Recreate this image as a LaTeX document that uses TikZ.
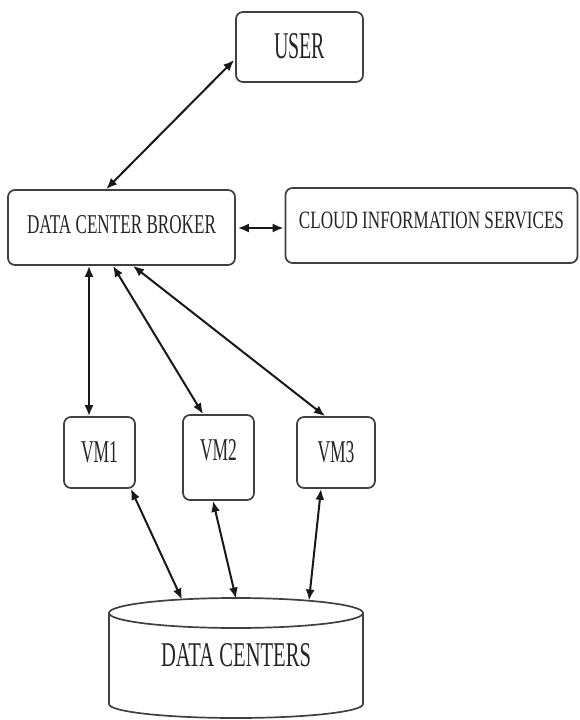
\documentclass[tikz,border=0pt]{standalone}
\usepackage{fontspec}
\setmainfont{Liberation Serif}
\usepackage{graphicx}
\usetikzlibrary{arrows.meta,calc}
\newcommand{\lbl}[3]{\resizebox{#1pt}{#2pt}{#3}}
\begin{document}
\begin{tikzpicture}[x=1pt,y=1pt,
  boxnode/.style={draw=black!75, line width=1.7pt, rounded corners=7pt, inner sep=0pt,
    fill=white, text=black!85, align=center},
  conn/.style={draw=black!90, line width=2pt, {Latex[length=11pt,width=9pt]}-{Latex[length=11pt,width=9pt]}},
  cylline/.style={draw=black!75, line width=1.7pt}]
\useasboundingbox (0,0) rectangle (579,-720);
\fill[white] (0,0) rectangle (579,-720);

% boxes
\node[boxnode, minimum width=127pt, minimum height=70pt, text depth=3pt] (user) at (299.5,-47) {\lbl{51}{25}{USER}};
\node[boxnode, minimum width=227pt, minimum height=75pt, text depth=7pt] (dcb) at (121.5,-227.5) {\lbl{189}{18}{DATA CENTER BROKER}};
\node[boxnode, minimum width=292pt, minimum height=75pt, text depth=11pt] (cis) at (431.5,-225.5) {\lbl{265}{16.5}{CLOUD INFORMATION SERVICES}};
\node[boxnode, minimum width=71pt, minimum height=71pt] (vm1) at (99.5,-452.5) {\lbl{37}{21}{VM1}};
\node[boxnode, minimum width=71pt, minimum height=85pt, text depth=15pt] (vm2) at (218.5,-457.5) {\lbl{37}{21}{VM2}};
\node[boxnode, minimum width=78pt, minimum height=71pt] (vm3) at (336,-452.5) {\lbl{37}{21}{VM3}};

% cylinder
\draw[cylline, fill=white] (109,-613) -- (109,-704) arc[start angle=180, end angle=360, x radius=127pt, y radius=14pt] -- (363,-613);
\draw[cylline] (236,-613) ellipse[x radius=127pt, y radius=15pt];
\node[inner sep=0pt, text=black!85] (dc) at (236,-655) {\lbl{150}{23}{DATA CENTERS}};
\coordinate (t1) at (182,-599.5);
\coordinate (t2) at (236,-598.5);
\coordinate (t3) at (309,-600.5);

% connectors
\draw[conn] ($(dcb.north west)+(99,0)$) -- ($(user.west)+(-1,-13)$);
\draw[conn] ($(dcb.east)+(2,-0.5)$) -- ($(dcb.east -| cis.west)+(-1,-0.5)$);
\draw[conn] ($(dcb.south)+(-32.5,0)$) -- ($(vm1.north)+(-10.5,0)$);
\draw[conn] ($(dcb.south)+(-8.5,0)$) -- ($(vm2.north)+(-15.5,0)$);
\draw[conn] ($(dcb.south)+(11.5,0)$) -- ($(vm3.north)+(-11,0)$);
\draw[conn] ($(vm1.south east)+(-5,0)$) -- (t1);
\draw[conn] ($(vm2.south)+(-5.5,0)$) -- (t2);
\draw[conn] ($(vm3.south)+(-15,0)$) -- (t3);
\end{tikzpicture}
\end{document}
